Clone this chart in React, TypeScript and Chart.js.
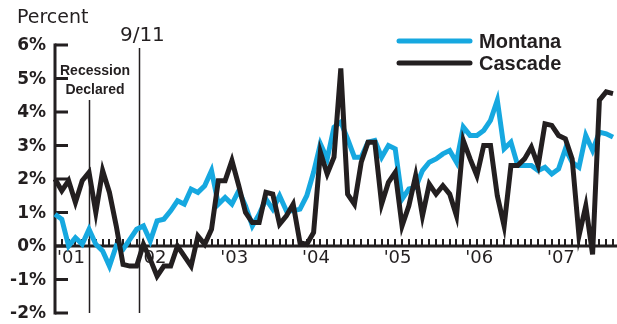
import React, { useEffect, useRef } from "react";
import { Chart, registerables } from "chart.js";

Chart.register(...registerables);

// Monthly series, January 2001 onward
const months: string[] = [];
for (let y = 2001; y <= 2007; y++) {
  for (let m = 1; m <= 12; m++) months.push(`${y}-${String(m).padStart(2, "0")}`);
}
const montana: number[] = [
  0.95, 0.8, 0.0, 0.25, 0.05, 0.5, 0.05, -0.15, -0.6, 0.0, -0.1, 0.2,
  0.5, 0.6, 0.15, 0.75, 0.8, 1.05, 1.35, 1.25, 1.7, 1.6, 1.8, 2.25,
  1.25, 1.45, 1.25, 1.65, 1.2, 0.6, 0.95, 1.4, 1.1, 1.5, 1.05, 1.05,
  1.1, 1.5, 2.2, 3.05, 2.6, 3.55, 3.7, 3.2, 2.65, 2.65, 3.1, 3.15,
  2.65, 3.0, 2.9, 1.4, 1.7, 1.75, 2.25, 2.5, 2.6, 2.75, 2.85, 2.5,
  3.55, 3.3, 3.3, 3.45, 3.75, 4.35, 2.9, 3.1, 2.4, 2.4, 2.4, 2.25,
  2.35, 2.15, 2.3, 2.9, 2.5, 2.35, 3.3, 2.85, 3.4, 3.35, 3.25,
];
const cascade: number[] = [
  2.0, 1.65, 1.95, 1.3, 1.95, 2.2, 1.0, 2.25, 1.6, 0.6, -0.55, -0.6,
  -0.6, 0.05, -0.4, -0.9, -0.6, -0.6, 0.0, -0.3, -0.6, 0.3, 0.05, 0.5,
  1.95, 1.95, 2.55, 1.8, 1.0, 0.7, 0.7, 1.6, 1.55, 0.65, 0.9, 1.25,
  0.1, 0.05, 0.4, 2.8, 2.15, 2.65, 5.3, 1.55, 1.25, 2.5, 3.1, 3.1,
  1.25, 1.9, 2.2, 0.6, 1.2, 2.1, 0.9, 1.85, 1.55, 1.8, 1.55, 0.9,
  3.15, 2.6, 2.1, 3.0, 3.0, 1.5, 0.6, 2.4, 2.4, 2.6, 2.95, 2.4,
  3.65, 3.6, 3.3, 3.2, 2.6, 0.3, 1.2, -0.25, 4.35, 4.6, 4.55,
];
const labels = months.slice(0, cascade.length);
const yTicks = [-2, -1, 0, 1, 2, 3, 4, 5, 6];
const yearLabels = ["'01", "'02", "'03", "'04", "'05", "'06", "'07"];
const events = [
  { at: 5.0, top: 100, lines: ["Recession", "Declared"] },
  { at: 12.4, top: 48, lines: ["9/11"] },
];

const BLUE = "#16a8e0";
const INK = "#231f20";
const SANS = "'Liberation Sans', Arial, sans-serif";
const WIDE = "'DejaVu Sans', sans-serif";

const decorations = {
  id: "decorations",
  beforeDatasetsDraw(chart: any) {
    const { ctx, scales, chartArea } = chart;
    const x = scales.x;
    const y = scales.y;
    const left = chartArea.left;
    ctx.save();
    // event markers
    ctx.strokeStyle = INK;
    ctx.lineWidth = 1.5;
    events.forEach((e) => {
      const px = Math.round(x.getPixelForValue(e.at)) + 0.5;
      ctx.beginPath();
      ctx.moveTo(px, e.top);
      ctx.lineTo(px, y.getPixelForValue(-2));
      ctx.stroke();
    });
    // zero baseline with month ticks
    const y0 = y.getPixelForValue(0);
    ctx.fillStyle = INK;
    ctx.fillRect(left, y0 - 1.5, 617 - left, 3);
    const step = x.getPixelForValue(1) - x.getPixelForValue(0);
    for (let px = left; px <= 617; px += step) {
      ctx.fillRect(Math.round(px) - 1, y0 - 7, 2, 7);
    }
    // year labels
    ctx.font = `18px ${WIDE}`;
    ctx.textAlign = "left";
    ctx.textBaseline = "alphabetic";
    yearLabels.forEach((t, i) => {
      ctx.fillText(t, x.getPixelForValue(i * 12) + 2, 263);
    });
    // left axis
    const top = y.getPixelForValue(6);
    const bottom = y.getPixelForValue(-2);
    ctx.fillRect(left - 1.5, top - 1.5, 3, bottom - top + 3);
    ctx.font = `bold 17px ${WIDE}`;
    ctx.textAlign = "right";
    ctx.textBaseline = "middle";
    yTicks.forEach((v) => {
      const py = y.getPixelForValue(v);
      ctx.fillRect(left, py - 1.5, 13, 3);
      ctx.fillText(`${v}%`, 46, py + 1);
    });
    ctx.restore();
  },
  afterDraw(chart: any) {
    const { ctx, scales } = chart;
    const x = scales.x;
    ctx.save();
    ctx.fillStyle = INK;
    ctx.textBaseline = "alphabetic";
    ctx.textAlign = "left";
    ctx.font = `19px ${WIDE}`;
    ctx.fillText("Percent", 17, 23);
    // event captions
    ctx.textAlign = "center";
    ctx.font = `20px ${WIDE}`;
    ctx.fillText(events[1].lines[0], x.getPixelForValue(events[1].at) + 3, 41);
    ctx.font = `bold 14px ${SANS}`;
    ctx.fillText(events[0].lines[0], 95, 75);
    ctx.fillText(events[0].lines[1], 95, 94);
    // legend
    const items = [
      { label: "Montana", color: BLUE, y: 41 },
      { label: "Cascade", color: INK, y: 63 },
    ];
    ctx.lineCap = "round";
    ctx.lineWidth = 5;
    ctx.textAlign = "left";
    ctx.textBaseline = "middle";
    ctx.font = `bold 20px ${SANS}`;
    items.forEach((it) => {
      ctx.strokeStyle = it.color;
      ctx.beginPath();
      ctx.moveTo(399, it.y);
      ctx.lineTo(470, it.y);
      ctx.stroke();
      ctx.fillStyle = INK;
      ctx.fillText(it.label, 479, it.y + 1);
    });
    ctx.restore();
  },
};

export default function App() {
  const ref = useRef<HTMLCanvasElement | null>(null);
  useEffect(() => {
    if (!ref.current) return;
    const chart = new Chart(ref.current, {
      type: "line",
      data: {
        labels,
        datasets: [
          {
            label: "Cascade",
            data: cascade,
            borderColor: INK,
            borderWidth: 5,
            pointRadius: 0,
            tension: 0,
            borderJoinStyle: "miter",
            order: 0,
          },
          {
            label: "Montana",
            data: montana,
            borderColor: BLUE,
            borderWidth: 5,
            pointRadius: 0,
            tension: 0,
            borderJoinStyle: "miter",
            order: 1,
          },
        ],
      },
      options: {
        responsive: false,
        animation: false,
        layout: { padding: { left: 55, right: 4, top: 45, bottom: 11 } },
        plugins: { legend: { display: false }, tooltip: { enabled: false } },
        scales: {
          x: { type: "category", display: false, offset: false },
          y: { type: "linear", display: false, min: -2, max: 6 },
        },
      },
      plugins: [decorations],
    });
    return () => chart.destroy();
  }, []);
  return (
    <div style={{ position: "fixed", left: 0, top: 0, width: 617, height: 324, background: "#fff" }}>
      <canvas ref={ref} width={617} height={324} style={{ display: "block" }} />
    </div>
  );
}
